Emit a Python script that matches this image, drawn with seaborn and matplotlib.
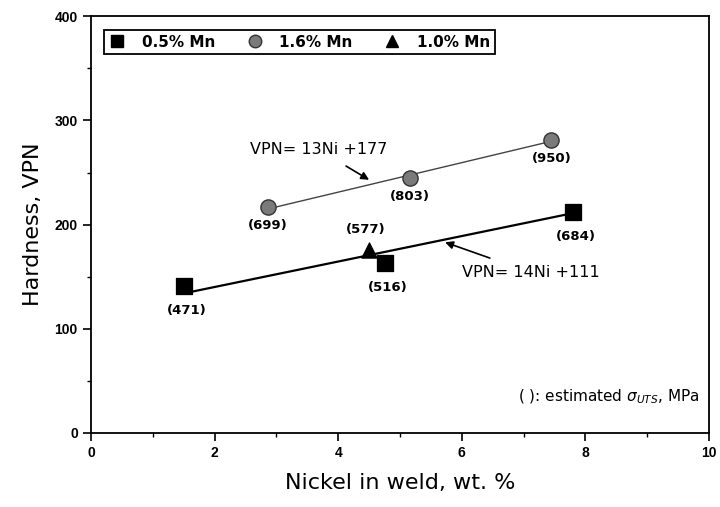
import pandas as pd
import matplotlib.pyplot as plt
import seaborn as sns
from matplotlib.lines import Line2D

# data
ni_05 = [1.5, 4.75, 7.8]
vpn_05 = [141, 163, 212]
uts_05 = ["(471)", "(516)", "(684)"]

ni_16 = [2.86, 5.16, 7.45]
vpn_16 = [217, 245, 281]
uts_16 = ["(699)", "(803)", "(950)"]

ni_10 = [4.5]
vpn_10 = [176]
uts_10 = ["(577)"]

# fitted lines (end points as drawn)
fit_low_x = [1.5, 7.8]
fit_low_y = [134, 211]
fit_high_x = [2.86, 7.45]
fit_high_y = [215, 280]

sns.set_style("ticks")
plt.rcParams['font.family'] = ['DejaVu Sans']
plt.rcParams.update({"text.color": "black", "axes.labelcolor": "black",
                     "xtick.color": "black", "ytick.color": "black"})

fig = plt.figure(figsize=(7.2, 5.07), dpi=100)
ax = fig.add_axes([0.1264, 0.146, 0.8583, 0.822])

sns.lineplot(x=fit_low_x, y=fit_low_y, color="black", linewidth=1.6, ax=ax)
sns.lineplot(x=fit_high_x, y=fit_high_y, color="#444444", linewidth=1.0, ax=ax)

sns.scatterplot(x=ni_05, y=vpn_05, marker="s", s=135, color="black", edgecolor="black", ax=ax, zorder=3)
sns.scatterplot(x=ni_16, y=vpn_16, marker="o", s=120, color="#7a7a7a", edgecolor="#333333", linewidth=1, ax=ax, zorder=3)
sns.scatterplot(x=ni_10, y=vpn_10, marker="^", s=120, color="black", edgecolor="black", ax=ax, zorder=3)

# UTS labels under the points
lab_kw = dict(fontsize=9.5, fontweight="bold", ha="center", va="center")
for x, y, t in zip(ni_05, vpn_05, uts_05):
    ax.text(x + 0.05, y - 23, t, **lab_kw)
for x, y, t in zip(ni_16, vpn_16, uts_16):
    ax.text(x, y - 18, t, **lab_kw)
for x, y, t in zip(ni_10, vpn_10, uts_10):
    ax.text(x - 0.05, y + 19, t, **lab_kw)

# equations
ax.annotate("VPN= 13Ni +177", xy=(4.5, 243), xytext=(3.68, 272),
            fontsize=11.5, ha="center", va="center",
            arrowprops=dict(arrowstyle="-|>", color="black", lw=1.2,
                            shrinkA=8, shrinkB=0))
ax.annotate("VPN= 14Ni +111", xy=(5.73, 183), xytext=(7.12, 154),
            fontsize=11.5, ha="center", va="center",
            arrowprops=dict(arrowstyle="-|>", color="black", lw=1.2,
                            shrinkA=8, shrinkB=0))

ax.text(9.85, 35, "( ): estimated $\\sigma_{UTS}$, MPa", fontsize=11,
        ha="right", va="center")

ax.set_xlim(0, 10)
ax.set_ylim(0, 400)
ax.set_xticks([0, 2, 4, 6, 8, 10])
ax.set_xticks([1, 3, 5, 7, 9], minor=True)
ax.set_yticks([0, 100, 200, 300, 400])
ax.set_yticks([50, 150, 250, 350], minor=True)
ax.tick_params(which="major", direction="out", length=6, width=1.2, labelsize=10)
ax.tick_params(which="minor", direction="out", length=3, width=1.0)
for lab in ax.get_xticklabels() + ax.get_yticklabels():
    lab.set_fontweight("bold")
    lab.set_family("Liberation Sans")
for sp in ax.spines.values():
    sp.set_linewidth(1.3)
    sp.set_color("black")

ax.set_xlabel("Nickel in weld, wt. %", fontsize=16, labelpad=9)
ax.set_ylabel("Hardness, VPN", fontsize=16, labelpad=8)

handles = [
    Line2D([], [], marker="s", color="black", linestyle="none", markersize=9),
    Line2D([], [], marker="o", color="#7a7a7a", markeredgecolor="#333333", linestyle="none", markersize=9),
    Line2D([], [], marker="^", color="black", linestyle="none", markersize=9),
]
leg = ax.legend(handles, ["0.5% Mn", "1.6% Mn", "1.0% Mn"], ncol=3,
                loc="upper left", bbox_to_anchor=(0.008, 0.985),
                fancybox=False, edgecolor="black", framealpha=1,
                prop=dict(size=11, weight="bold"), handletextpad=1.0,
                columnspacing=2.0, borderpad=0.3, handlelength=1.2)
leg.get_frame().set_linewidth(1.3)

plt.savefig("out.png", dpi=100)
plt.close()
